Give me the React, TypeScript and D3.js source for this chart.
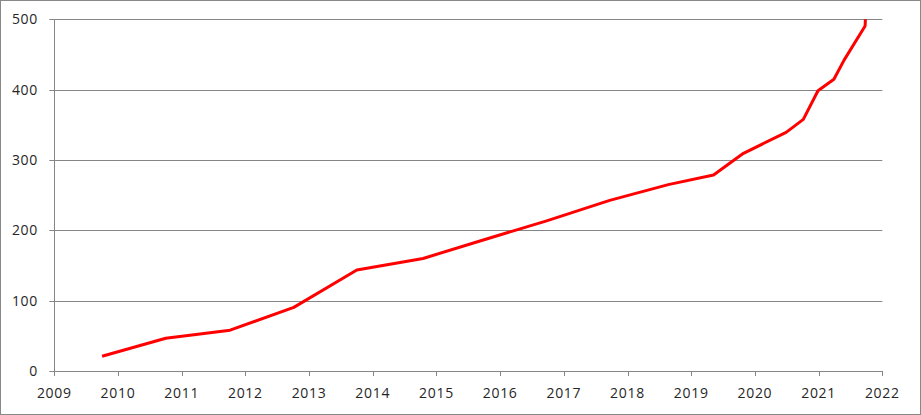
import React from "react";
import * as d3 from "d3";

const years: number[] = [
  2009.75, 2010.75, 2011.76, 2012.76, 2013.75, 2014.79, 2015.76, 2016.73,
  2017.72, 2018.64, 2019.35, 2019.82, 2020.49, 2020.76, 2020.99, 2021.24,
  2021.4, 2021.73, 2021.735,
];
const values: number[] = [
  21, 46.5, 58, 90.5, 143.5, 160, 187, 213.5, 242.5, 265, 278.6, 309.5, 339.3,
  357.8, 398.5, 414.7, 442, 490.5, 500,
];
const xTicks: number[] = d3.range(2009, 2023);
const yTicks: number[] = [0, 100, 200, 300, 400, 500];

const W = 921;
const H = 415;
const left = 54.3;
const right = 882.3;
const top = 19.3;
const bottom = 371;

export default function App() {
  const x = d3.scaleLinear().domain([2009, 2022]).range([left, right]);
  const y = d3.scaleLinear().domain([0, 500]).range([bottom, top]);
  const pts = years.map((yr, i) => [yr, values[i]] as [number, number]);
  const line = d3
    .line<[number, number]>()
    .x((d) => x(d[0]))
    .y((d) => y(d[1]));
  const font = "'Open Sans', 'DejaVu Sans', sans-serif";
  const grid = "#868686";
  return (
    <div style={{ position: "fixed", left: 0, top: 0 }}>
      <svg width={W} height={H} style={{ display: "block" }}>
        <rect x={0} y={0} width={W} height={H} fill="#fff" />
        <rect x={0.5} y={0.5} width={W - 1} height={H - 1} fill="none" stroke="#888" strokeWidth={1} />
        {yTicks.map((t) => (
          <g key={"y" + t}>
            {t > 0 && (
              <line x1={left} x2={right} y1={Math.round(y(t)) + 0.5} y2={Math.round(y(t)) + 0.5} stroke={grid} strokeWidth={1} />
            )}
            <line x1={left - 5} x2={left} y1={Math.round(y(t)) + 0.5} y2={Math.round(y(t)) + 0.5} stroke={grid} strokeWidth={1} />
            <text
              x={38}
              y={y(t)}
              dy="0.36em"
              textAnchor="end"
              fontFamily={font}
              fontSize={14}
              letterSpacing={0.7}
              fill="#262626"
            >
              {t}
            </text>
          </g>
        ))}
        <line x1={Math.round(left) + 0.5} x2={Math.round(left) + 0.5} y1={top} y2={bottom} stroke={grid} strokeWidth={1} />
        <line x1={left} x2={right} y1={Math.round(bottom) + 0.5} y2={Math.round(bottom) + 0.5} stroke={grid} strokeWidth={1} />
        {xTicks.map((t) => (
          <g key={"x" + t}>
            <line x1={Math.round(x(t)) + 0.5} x2={Math.round(x(t)) + 0.5} y1={bottom} y2={bottom + 5} stroke={grid} strokeWidth={1} />
            <text
              x={x(t)}
              y={397.5}
              textAnchor="middle"
              fontFamily={font}
              fontSize={14}
              letterSpacing={0.7}
              fill="#262626"
            >
              {t}
            </text>
          </g>
        ))}
        <path d={line(pts) || ""} fill="none" stroke="#ff0000" strokeWidth={3} strokeLinejoin="round" />
      </svg>
    </div>
  );
}
